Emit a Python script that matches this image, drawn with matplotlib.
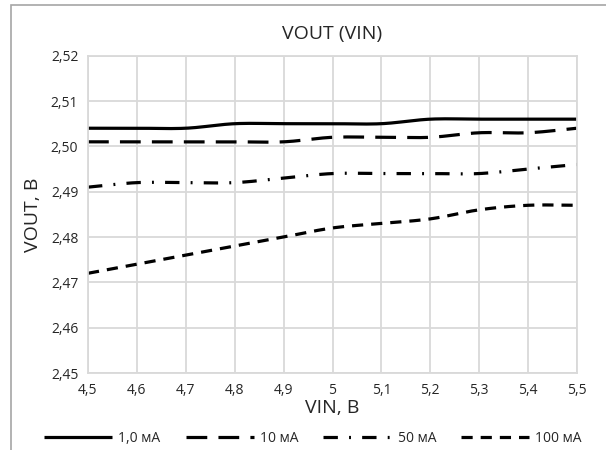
import numpy as np
import matplotlib
matplotlib.use("Agg")
import matplotlib.pyplot as plt
from matplotlib.patches import Rectangle

vin = [4.5, 4.6, 4.7, 4.8, 4.9, 5.0, 5.1, 5.2, 5.3, 5.4, 5.5]
vout_1ma = [2.504, 2.504, 2.504, 2.505, 2.505, 2.505, 2.505, 2.506, 2.506, 2.506, 2.506]
vout_10ma = [2.501, 2.501, 2.501, 2.501, 2.501, 2.502, 2.502, 2.502, 2.503, 2.503, 2.504]
vout_50ma = [2.491, 2.492, 2.492, 2.492, 2.493, 2.494, 2.494, 2.494, 2.494, 2.495, 2.496]
vout_100ma = [2.472, 2.474, 2.476, 2.478, 2.480, 2.482, 2.483, 2.484, 2.486, 2.487, 2.487]
labels = ["1,0 мА", "10 мА", "50 мА", "100 мА"]
x_ticks = [4.5, 4.6, 4.7, 4.8, 4.9, 5.0, 5.1, 5.2, 5.3, 5.4, 5.5]
x_ticklabels = ["4,5", "4,6", "4,7", "4,8", "4,9", "5", "5,1", "5,2", "5,3", "5,4", "5,5"]
y_ticks = [2.45, 2.46, 2.47, 2.48, 2.49, 2.50, 2.51, 2.52]
y_ticklabels = ["2,45", "2,46", "2,47", "2,48", "2,49", "2,50", "2,51", "2,52"]

plt.rcParams["font.family"] = ["Open Sans", "DejaVu Sans"]


def smooth(x, y, n=20):
    """Catmull-Rom curve through the points (spreadsheet-style smoothed line)."""
    x = np.asarray(x, float)
    y = np.asarray(y, float)
    px = np.concatenate([[2 * x[0] - x[1]], x, [2 * x[-1] - x[-2]]])
    py = np.concatenate([[2 * y[0] - y[1]], y, [2 * y[-1] - y[-2]]])
    xs, ys = [], []
    t = np.linspace(0, 1, n, endpoint=False)
    for i in range(1, len(px) - 2):
        for arr, out in ((px, xs), (py, ys)):
            p0, p1, p2, p3 = arr[i - 1], arr[i], arr[i + 1], arr[i + 2]
            out.extend(0.5 * (2 * p1 + (-p0 + p2) * t
                              + (2 * p0 - 5 * p1 + 4 * p2 - p3) * t ** 2
                              + (-p0 + 3 * p1 - 3 * p2 + p3) * t ** 3))
    xs.append(x[-1])
    ys.append(y[-1])
    return np.array(xs), np.array(ys)


W, H = 606, 450
fig = plt.figure(figsize=(W / 100, H / 100), dpi=100)

# outer chart frame (only left and top edges fall inside the image)
fig.add_artist(Rectangle((11 / W, -0.1), 1.2, (H - 5) / H + 0.1,
                         transform=fig.transFigure, fill=False,
                         edgecolor="#a6a6a6", linewidth=1.2))

left, right, top, bottom = 88, 577, 55.7, 373
ax = fig.add_axes([left / W, 1 - bottom / H, (right - left) / W, (bottom - top) / H])

styles = [
    dict(linestyle="-"),
    dict(linestyle=(0, (6.5, 3.5))),
    dict(linestyle=(0, (4.5, 3.5, 0.6, 3.5))),
    dict(linestyle=(0, (3.5, 2.5))),
]
series = [vout_1ma, vout_10ma, vout_50ma, vout_100ma]
for vals, st, lab in zip(series, styles, labels):
    sx, sy = smooth(vin, vals)
    ax.plot(sx, sy, color="black", linewidth=2.3, label=lab,
            solid_capstyle="butt", dash_capstyle="butt", **st)

ax.set_xlim(4.5, 5.5)
ax.set_ylim(2.45, 2.52)
ax.set_xticks(x_ticks)
ax.set_xticklabels(x_ticklabels)
ax.set_yticks(y_ticks)
ax.set_yticklabels(y_ticklabels)
ax.tick_params(length=0, labelsize=10, pad=7, colors="#262626")
ax.grid(True, color="#d9d9d9", linewidth=1.3)
ax.set_axisbelow(True)
for sp in ax.spines.values():
    sp.set_color("#d9d9d9")
    sp.set_linewidth(1.3)

ax.set_title("VOUT (VIN)", fontsize=14, color="#262626", pad=12)
ax.set_xlabel("VIN, B", fontsize=14, color="#262626", labelpad=1)
ax.set_ylabel("VOUT, B", fontsize=14, color="#262626", labelpad=6)

leg = fig.legend(loc="center", bbox_to_anchor=(0.5 + 10 / W, 1 - 438 / H), ncol=4,
                 frameon=False, fontsize=10, handlelength=4.9,
                 columnspacing=1.8, handletextpad=0.45,
                 labelcolor="#262626")

fig.savefig("out.png", dpi=100)
